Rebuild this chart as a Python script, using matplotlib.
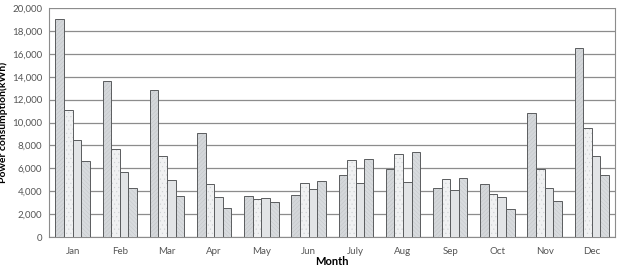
import numpy as np
import matplotlib.pyplot as plt

# Monthly power consumption (kWh), four series per month
months = ['Jan', 'Feb', 'Mar', 'Apr', 'May', 'Jun', 'July', 'Aug', 'Sep', 'Oct', 'Nov', 'Dec']
series_1 = [19000, 13600, 12850, 9050, 3580, 3640, 5400, 5970, 4250, 4600, 10830, 16500]
series_2 = [11080, 7660, 7040, 4630, 3320, 4750, 6700, 7250, 5070, 3730, 5940, 9490]
series_3 = [8440, 5680, 4950, 3460, 3380, 4160, 4720, 4830, 4080, 3490, 4280, 7070]
series_4 = [6610, 4310, 3550, 2530, 3090, 4890, 6840, 7390, 5150, 2420, 3120, 5390]

plt.rcParams['font.family'] = ['Lato', 'DejaVu Sans']
plt.rcParams['hatch.linewidth'] = 0.3

fig = plt.figure(figsize=(6.17, 2.67), dpi=100)
ax = fig.add_axes([0.0794, 0.112, 0.918, 0.858])

x = np.arange(len(months))
w = 0.182
styles = [
    (series_1, '#d4d7da', '////////', '#bfc2c5'),
    (series_2, '#f0f1f2', '....', '#cdd0d3'),
    (series_3, '#e2e4e6', '', '#c0c3c6'),
    (series_4, '#d8dbde', '\\\\\\\\\\\\\\\\', '#c2c5c8'),
]
for i, (vals, fc, hatch, hc) in enumerate(styles):
    bars = ax.bar(x + (i - 1.5) * w, vals, width=w, facecolor=fc, edgecolor='#5a5c5e',
                  linewidth=0.7, hatch=hatch, zorder=3)
    for b in bars:
        b._hatch_color = plt.matplotlib.colors.to_rgba(hc)

ax.set_xlim(-0.5, 11.5)
ax.set_ylim(0, 20000)
ax.set_yticks(np.arange(0, 20001, 2000))
ax.set_yticklabels(['{:,}'.format(v) for v in range(0, 20001, 2000)])
ax.set_xticks(x)
ax.set_xticklabels(months)
ax.grid(axis='y', color='#8c8c8c', linewidth=0.9, zorder=0)
ax.tick_params(axis='both', length=0, labelsize=7, colors='#555555', pad=5)
ax.tick_params(axis='x', pad=7)
ax.spines['top'].set_visible(False)
for s in ['left', 'right', 'bottom']:
    ax.spines[s].set_color('#8c8c8c')

ax.set_ylabel('Power consumption(kWh)', fontsize=7.5, fontweight='bold')
ax.yaxis.set_label_coords(-0.072, 0.5)
ax.set_xlabel('Month', fontsize=8, fontweight='bold')
ax.xaxis.set_label_coords(0.5, -0.083)

fig.savefig('out.png', dpi=100)
